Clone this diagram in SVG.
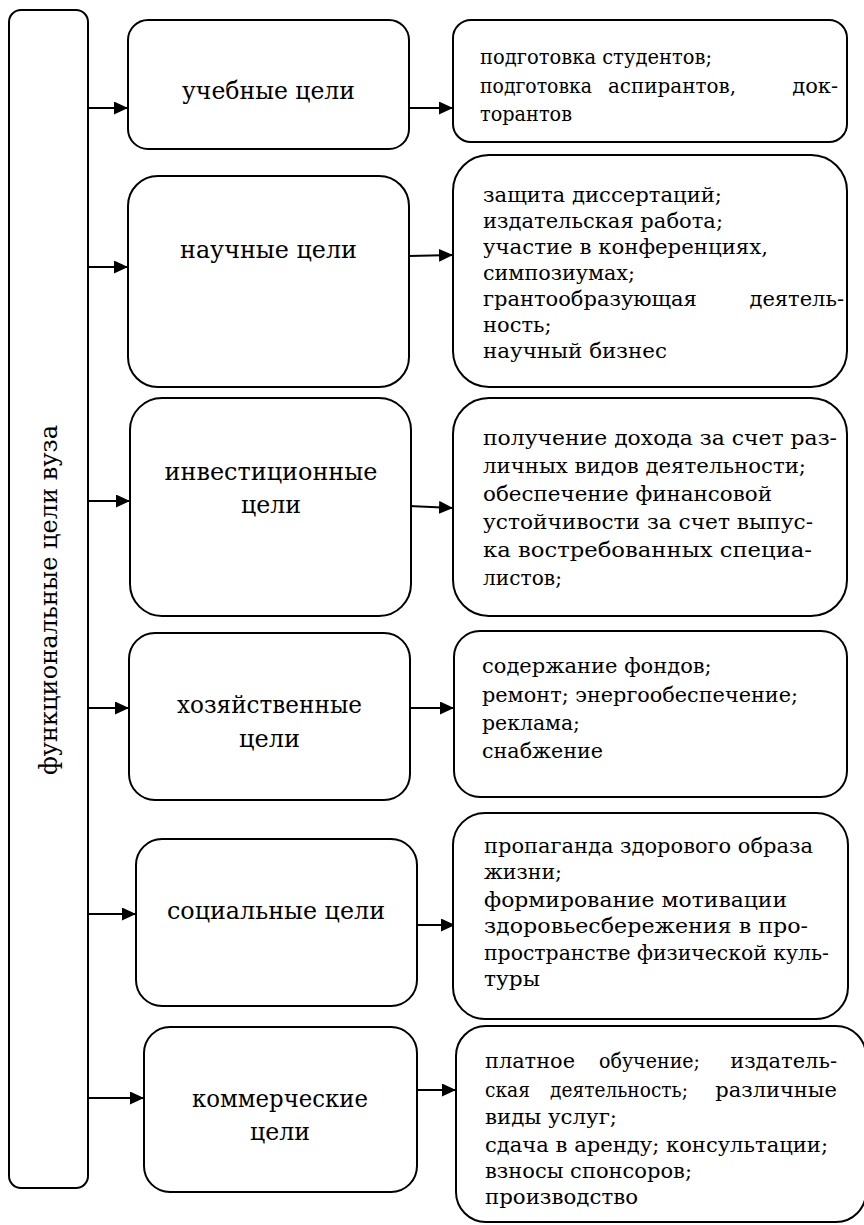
<svg xmlns="http://www.w3.org/2000/svg" width="864" height="1225" viewBox="0 0 864 1225">
<style>
.box{fill:#fff;stroke:#000;stroke-width:2}
text{font-family:"DejaVu Serif",serif;fill:#000}
.lt{font-size:25px;text-anchor:middle}
.rt{font-size:21px}
.con{stroke:#000;stroke-width:2;fill:none;marker-end:url(#ah)}
</style>
<defs>
<marker id="ah" markerUnits="userSpaceOnUse" markerWidth="15" markerHeight="13" refX="14" refY="6.5" orient="auto">
<path d="M0,0 L14,6.5 L0,13 z" fill="#000"/>
</marker>
</defs>
<rect width="864" height="1225" fill="#fff"/>
<g id="root">
<rect class="box" x="9" y="10" width="79" height="1178" rx="12"/>
<text class="lt" x="57" y="600" transform="rotate(-90 57 600)" textLength="350" lengthAdjust="spacingAndGlyphs">функциональные цели вуза</text>
</g>
<g id="connectors">
<line class="con" x1="88" y1="108" x2="128" y2="108"/>
<line class="con" x1="409" y1="108" x2="453" y2="108"/>
<line class="con" x1="88" y1="267" x2="128" y2="267"/>
<line class="con" x1="409" y1="256" x2="453" y2="255"/>
<line class="con" x1="88" y1="501" x2="130" y2="501"/>
<line class="con" x1="409" y1="506" x2="453" y2="508"/>
<line class="con" x1="88" y1="708" x2="129" y2="708"/>
<line class="con" x1="410" y1="708" x2="454" y2="708"/>
<line class="con" x1="88" y1="914" x2="136" y2="914"/>
<line class="con" x1="417" y1="925" x2="455" y2="925"/>
<line class="con" x1="88" y1="1098" x2="144" y2="1098"/>
<line class="con" x1="417" y1="1090" x2="456" y2="1090"/>
</g>
<g id="n1">
<rect class="box" x="128" y="20" width="281" height="129" rx="20"/>
<text class="lt" x="268.5" y="99" textLength="173" lengthAdjust="spacingAndGlyphs">учебные цели</text>
</g>
<g id="n1d">
<rect class="box" x="453" y="20" width="394" height="122" rx="18"/>
<text class="rt" x="480" y="64" textLength="232" lengthAdjust="spacingAndGlyphs">подготовка студентов;</text>
<text class="rt" x="480" y="93" textLength="112" lengthAdjust="spacingAndGlyphs">подготовка</text>
<text class="rt" x="608" y="93" textLength="128" lengthAdjust="spacingAndGlyphs">аспирантов,</text>
<text class="rt" x="838" y="93" text-anchor="end">док-</text>
<text class="rt" x="480" y="121" textLength="92" lengthAdjust="spacingAndGlyphs">торантов</text>
</g>
<g id="n2">
<rect class="box" x="128" y="176" width="281" height="211" rx="30"/>
<text class="lt" x="268.5" y="258" textLength="177" lengthAdjust="spacingAndGlyphs">научные цели</text>
</g>
<g id="n2d">
<rect class="box" x="453" y="155" width="394" height="232" rx="36"/>
<text class="rt" x="483" y="202" textLength="239" lengthAdjust="spacingAndGlyphs">защита диссертаций;</text>
<text class="rt" x="483" y="228" textLength="240" lengthAdjust="spacingAndGlyphs">издательская работа;</text>
<text class="rt" x="483" y="254" textLength="285" lengthAdjust="spacingAndGlyphs">участие в конференциях,</text>
<text class="rt" x="483" y="280" textLength="152" lengthAdjust="spacingAndGlyphs">симпозиумах;</text>
<text class="rt" x="483" y="306">грантообразующая</text>
<text class="rt" x="844" y="306" text-anchor="end">деятель-</text>
<text class="rt" x="483" y="332">ность;</text>
<text class="rt" x="483" y="358" textLength="184" lengthAdjust="spacingAndGlyphs">научный бизнес</text>
</g>
<g id="n3">
<rect class="box" x="130" y="398" width="281" height="218" rx="32"/>
<text class="lt" x="271" y="480" textLength="213" lengthAdjust="spacingAndGlyphs">инвестиционные</text>
<text class="lt" x="271" y="513" textLength="60" lengthAdjust="spacingAndGlyphs">цели</text>
</g>
<g id="n3d">
<rect class="box" x="453" y="398" width="394" height="218" rx="36"/>
<text class="rt" x="483" y="445" textLength="354" lengthAdjust="spacingAndGlyphs">получение дохода за счет раз-</text>
<text class="rt" x="483" y="473" textLength="323" lengthAdjust="spacingAndGlyphs">личных видов деятельности;</text>
<text class="rt" x="483" y="501" textLength="289" lengthAdjust="spacingAndGlyphs">обеспечение финансовой</text>
<text class="rt" x="483" y="529" textLength="330" lengthAdjust="spacingAndGlyphs">устойчивости за счет выпус-</text>
<text class="rt" x="483" y="557" textLength="329" lengthAdjust="spacingAndGlyphs">ка востребованных специа-</text>
<text class="rt" x="483" y="585" textLength="79" lengthAdjust="spacingAndGlyphs">листов;</text>
</g>
<g id="n4">
<rect class="box" x="129" y="633" width="281" height="167" rx="26"/>
<text class="lt" x="269.5" y="713" textLength="185" lengthAdjust="spacingAndGlyphs">хозяйственные</text>
<text class="lt" x="269.5" y="747" textLength="61" lengthAdjust="spacingAndGlyphs">цели</text>
</g>
<g id="n4d">
<rect class="box" x="454" y="631" width="393" height="166" rx="26"/>
<text class="rt" x="482" y="673">содержание фондов;</text>
<text class="rt" x="482" y="702" textLength="316" lengthAdjust="spacingAndGlyphs">ремонт; энергообеспечение;</text>
<text class="rt" x="482" y="730" textLength="98" lengthAdjust="spacingAndGlyphs">реклама;</text>
<text class="rt" x="482" y="758" textLength="121" lengthAdjust="spacingAndGlyphs">снабжение</text>
</g>
<g id="n5">
<rect class="box" x="136" y="839" width="281" height="167" rx="26"/>
<text class="lt" x="276" y="919" textLength="218" lengthAdjust="spacingAndGlyphs">социальные цели</text>
</g>
<g id="n5d">
<rect class="box" x="453" y="813" width="395" height="206" rx="32"/>
<text class="rt" x="484" y="853" textLength="329" lengthAdjust="spacingAndGlyphs">пропаганда здорового образа</text>
<text class="rt" x="484" y="879" textLength="78" lengthAdjust="spacingAndGlyphs">жизни;</text>
<text class="rt" x="484" y="907" textLength="303" lengthAdjust="spacingAndGlyphs">формирование мотивации</text>
<text class="rt" x="484" y="933" textLength="324" lengthAdjust="spacingAndGlyphs">здоровьесбережения в про-</text>
<text class="rt" x="484" y="960" textLength="345" lengthAdjust="spacingAndGlyphs">пространстве физической куль-</text>
<text class="rt" x="484" y="986" textLength="56" lengthAdjust="spacingAndGlyphs">туры</text>
</g>
<g id="n6">
<rect class="box" x="144" y="1027" width="273" height="165" rx="26"/>
<text class="lt" x="280" y="1107" textLength="176" lengthAdjust="spacingAndGlyphs">коммерческие</text>
<text class="lt" x="280" y="1140" textLength="60" lengthAdjust="spacingAndGlyphs">цели</text>
</g>
<g id="n6d">
<rect class="box" x="456" y="1026" width="410" height="196" rx="30"/>
<text class="rt" x="485" y="1068" textLength="90" lengthAdjust="spacingAndGlyphs">платное</text>
<text class="rt" x="599" y="1068" textLength="101" lengthAdjust="spacingAndGlyphs">обучение;</text>
<text class="rt" x="837" y="1068" text-anchor="end">издатель-</text>
<text class="rt" x="485" y="1097" textLength="45" lengthAdjust="spacingAndGlyphs">ская</text>
<text class="rt" x="550" y="1097" textLength="138" lengthAdjust="spacingAndGlyphs">деятельность;</text>
<text class="rt" x="837" y="1097" text-anchor="end">различные</text>
<text class="rt" x="485" y="1124" textLength="132" lengthAdjust="spacingAndGlyphs">виды услуг;</text>
<text class="rt" x="485" y="1152" textLength="343" lengthAdjust="spacingAndGlyphs">сдача в аренду; консультации;</text>
<text class="rt" x="485" y="1178" textLength="207" lengthAdjust="spacingAndGlyphs">взносы спонсоров;</text>
<text class="rt" x="485" y="1204" textLength="153" lengthAdjust="spacingAndGlyphs">производство</text>
</g>
</svg>
